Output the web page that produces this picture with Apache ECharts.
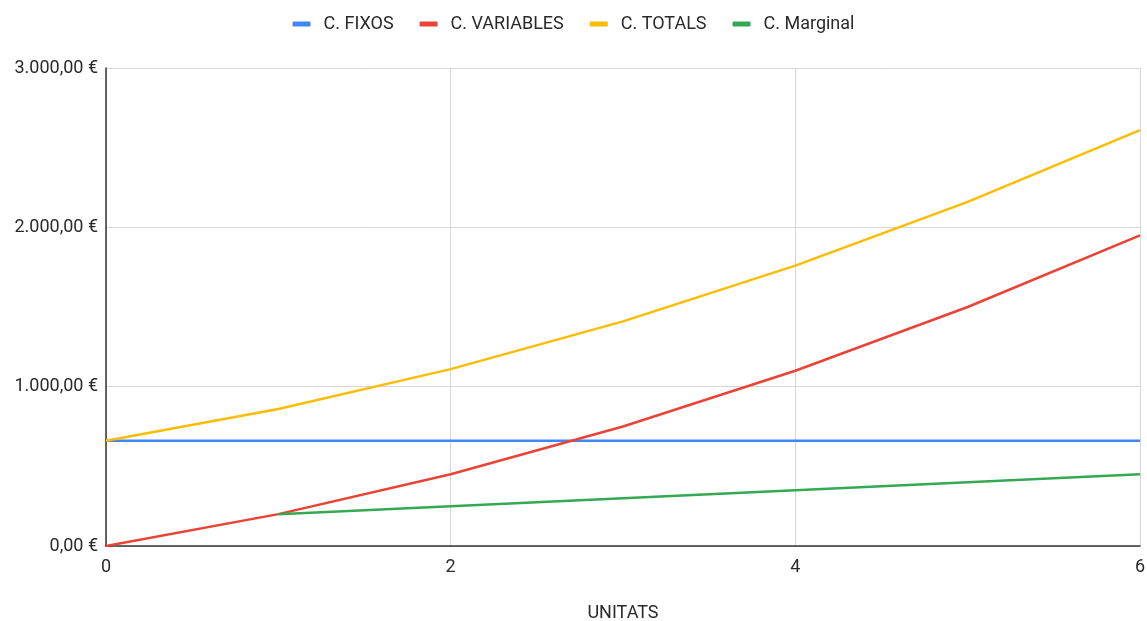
<!DOCTYPE html>
<html>
<head>
<meta charset="utf-8">
<script src="https://cdn.jsdelivr.net/npm/echarts@6/dist/echarts.min.js"></script>
<style>
  html, body { margin: 0; padding: 0; background: #fff; }
  #chart { width: 1147px; height: 621px; }
</style>
</head>
<body>
<div id="chart"></div>
<script>
// Costos per unitat produïda
const unitats = [0, 1, 2, 3, 4, 5, 6];
const costosFixos = [660, 660, 660, 660, 660, 660, 660];
const costosVariables = [0, 200, 450, 750, 1100, 1500, 1950];
const costosTotals = [660, 860, 1110, 1410, 1760, 2160, 2610];
const unitatsMarginal = [1, 2, 3, 4, 5, 6];
const costMarginal = [200, 250, 300, 350, 400, 450];
const xTicks = [0, 2, 4, 6];
const yTicks = [0, 1000, 2000, 3000];

const pairs = (xs, ys) => xs.map((x, i) => [x, ys[i]]);

function euro(v) {
  const parts = v.toFixed(2).split('.');
  const ent = parts[0].replace(/\B(?=(\d{3})+(?!\d))/g, '.');
  return ent + ',' + parts[1] + ' €';
}

const font = 'Roboto, "Noto Sans", Arial, sans-serif';

const chart = echarts.init(document.getElementById('chart'), null, { renderer: 'canvas' });

function line(name, color, data) {
  return {
    name, type: 'line', data,
    showSymbol: false, symbol: 'none',
    lineStyle: { color, width: 2.5 },
    itemStyle: { color },
    emphasis: { disabled: true },
    animation: false
  };
}

chart.setOption({
  animation: false,
  backgroundColor: '#ffffff',
  textStyle: { fontFamily: font },
  legend: {
    top: 10,
    left: 'center',
    icon: 'roundRect',
    itemWidth: 18,
    itemHeight: 5,
    itemGap: 26,
    textStyle: { fontFamily: font, fontSize: 18, color: '#2a2a2a', padding: [0, 0, 0, 8] },
    data: ['C. FIXOS', 'C. VARIABLES', 'C. TOTALS', 'C. Marginal']
  },
  grid: {
    left: 106, right: 7, top: 68, bottom: 75,
    containLabel: false,
    outerBoundsMode: 'none'
  },
  xAxis: {
    type: 'value',
    min: xTicks[0], max: xTicks[xTicks.length - 1], interval: xTicks[1] - xTicks[0],
    name: 'UNITATS',
    nameLocation: 'middle',
    nameGap: 58,
    nameTextStyle: { fontFamily: font, fontSize: 18, color: '#2a2a2a' },
    axisLine: { show: true, lineStyle: { color: '#333', width: 1.5 } },
    axisTick: { show: false },
    axisLabel: { fontFamily: font, fontSize: 18, color: '#2a2a2a', margin: 12 },
    splitLine: { show: true, lineStyle: { color: '#d6d6d6', width: 1 } }
  },
  yAxis: {
    type: 'value',
    min: yTicks[0], max: yTicks[yTicks.length - 1], interval: yTicks[1] - yTicks[0],
    axisLine: { show: true, lineStyle: { color: '#333', width: 1.5 } },
    axisTick: { show: false },
    axisLabel: { fontFamily: font, fontSize: 18, color: '#2a2a2a', margin: 8, formatter: euro },
    splitLine: { show: true, lineStyle: { color: '#d6d6d6', width: 1 } }
  },
  series: [
    line('C. FIXOS', '#4285f4', pairs(unitats, costosFixos)),
    line('C. VARIABLES', '#ea4335', pairs(unitats, costosVariables)),
    line('C. TOTALS', '#fbbc04', pairs(unitats, costosTotals)),
    line('C. Marginal', '#34a853', pairs(unitatsMarginal, costMarginal))
  ]
});
</script>
</body>
</html>
